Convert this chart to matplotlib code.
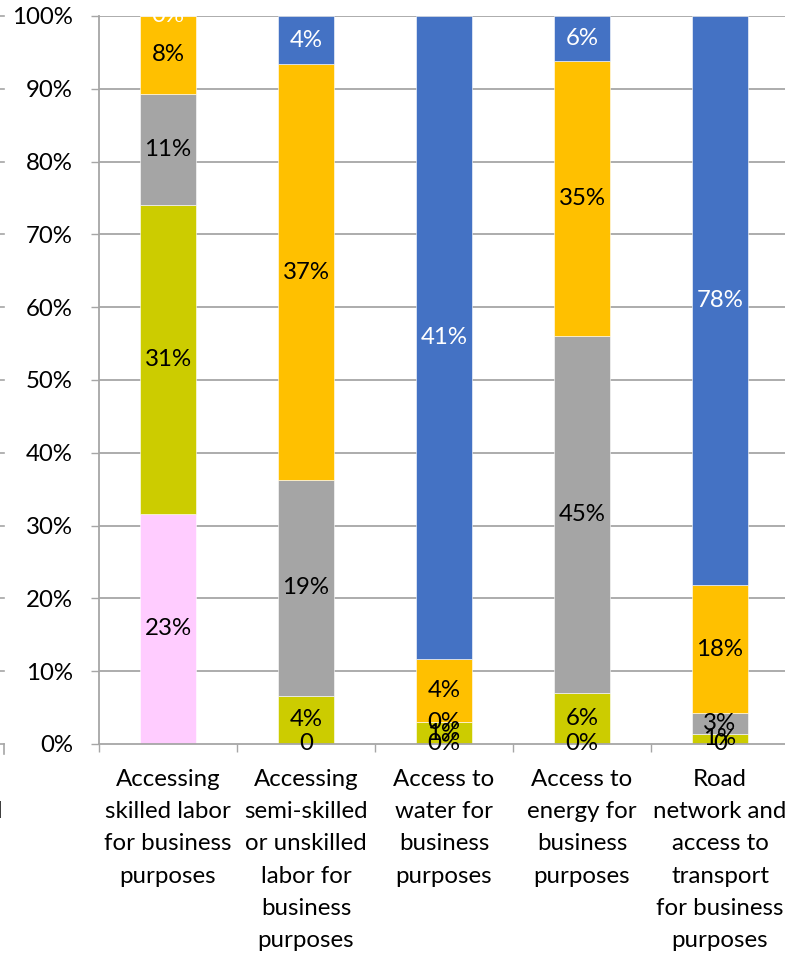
import matplotlib
matplotlib.use("Agg")
import matplotlib.pyplot as plt
from matplotlib.lines import Line2D
from matplotlib.transforms import Bbox, TransformedBbox

plt.rcParams["font.family"] = ["Lato", "DejaVu Sans"]

# Categories (x-axis labels)
categories = [
    "Accessing\nskilled labor\nfor business\npurposes",
    "Accessing\nsemi-skilled\nor unskilled\nlabor for\nbusiness\npurposes",
    "Access to\nwater for\nbusiness\npurposes",
    "Access to\nenergy for\nbusiness\npurposes",
    "Road\nnetwork and\naccess to\ntransport\nfor business\npurposes",
]

# Series values in percent (None = empty cell, labelled "0")
pink = [23.1, None, 0.0, 0.0, None]
green = [30.9, 4.3, 1.4, 6.4, 1.4]
gray = [11.2, 19.2, 0.0, 45.1, 2.8]
orange = [7.8, 37.0, 4.0, 34.8, 17.6]
blue = [0.0, 4.3, 41.0, 5.7, 78.2]

series = [pink, green, gray, orange, blue]
colors = ["#FFCCFF", "#CCCC00", "#A5A5A5", "#FFC000", "#4472C4"]
label_colors = ["black", "black", "black", "black", "white"]
y_ticks = [0, 10, 20, 30, 40, 50, 60, 70, 80, 90, 100]

FS = 17.3
W, H = 785, 957
fig = plt.figure(figsize=(W / 100, H / 100), dpi=100)
ax = fig.add_axes([99 / W, 1 - 744 / H, 690 / W, 728 / H])

totals = [sum((s[i] or 0.0) for s in series) for i in range(len(categories))]
x = list(range(len(categories)))
bottoms = [0.0] * len(categories)

grid_col = "#A6A6A6"
for yv in y_ticks[1:]:
    ax.axhline(yv / 100, color=grid_col, lw=1.3, zorder=0)

clip = TransformedBbox(Bbox([[-1, -0.2], [2, 1]]), ax.transAxes)
for s, col, lc in zip(series, colors, label_colors):
    frac = [(v or 0.0) / t for v, t in zip(s, totals)]
    ax.bar(x, frac, width=0.4, bottom=bottoms, color=col,
           edgecolor="white", linewidth=0.4, zorder=2)
    for i, (v, f) in enumerate(zip(s, frac)):
        lab = "0" if v is None else f"{v:.0f}%"
        t = ax.text(i, bottoms[i] + f / 2, lab, ha="center", va="center",
                    fontsize=FS, color=lc, zorder=5)
        t.set_clip_box(clip)
        t.set_clip_on(True)
    bottoms = [b + f for b, f in zip(bottoms, frac)]

ax.set_xlim(-0.5, 4.5)
ax.set_ylim(0, 1)
ax.set_yticks([v / 100 for v in y_ticks])
ax.set_yticklabels([f"{v}%" for v in y_ticks], fontsize=FS)
ax.tick_params(axis="y", length=5.8, width=1.0, color=grid_col, pad=13)

ax.set_xticks(x)
ax.set_xticklabels(categories, fontsize=FS, linespacing=1.66)
ax.set_xticks([i - 0.5 for i in range(6)], minor=True)
ax.tick_params(axis="x", which="major", length=0, pad=18)
ax.tick_params(axis="x", which="minor", length=5.8, width=1.0, color=grid_col)

for side in ["top", "right"]:
    ax.spines[side].set_visible(False)
for side in ["left", "bottom"]:
    ax.spines[side].set_color(grid_col)
    ax.spines[side].set_linewidth(1.3)
ax.spines["bottom"].set_zorder(3)

# edge of the neighbouring panel on the left
for yv in y_ticks:
    yy = 1 - (744 - yv * 7.28) / H
    fig.add_artist(Line2D([0, 4 / W], [yy, yy], transform=fig.transFigure,
                          color=grid_col, lw=1.2))
fig.add_artist(Line2D([4 / W, 4 / W], [1 - 744 / H, 1 - 754 / H],
                      transform=fig.transFigure, color=grid_col, lw=1.2))
fig.text(3 / W, 1 - 811 / H, "d", ha="right", va="center", fontsize=FS)

fig.savefig("out.png", dpi=100)
